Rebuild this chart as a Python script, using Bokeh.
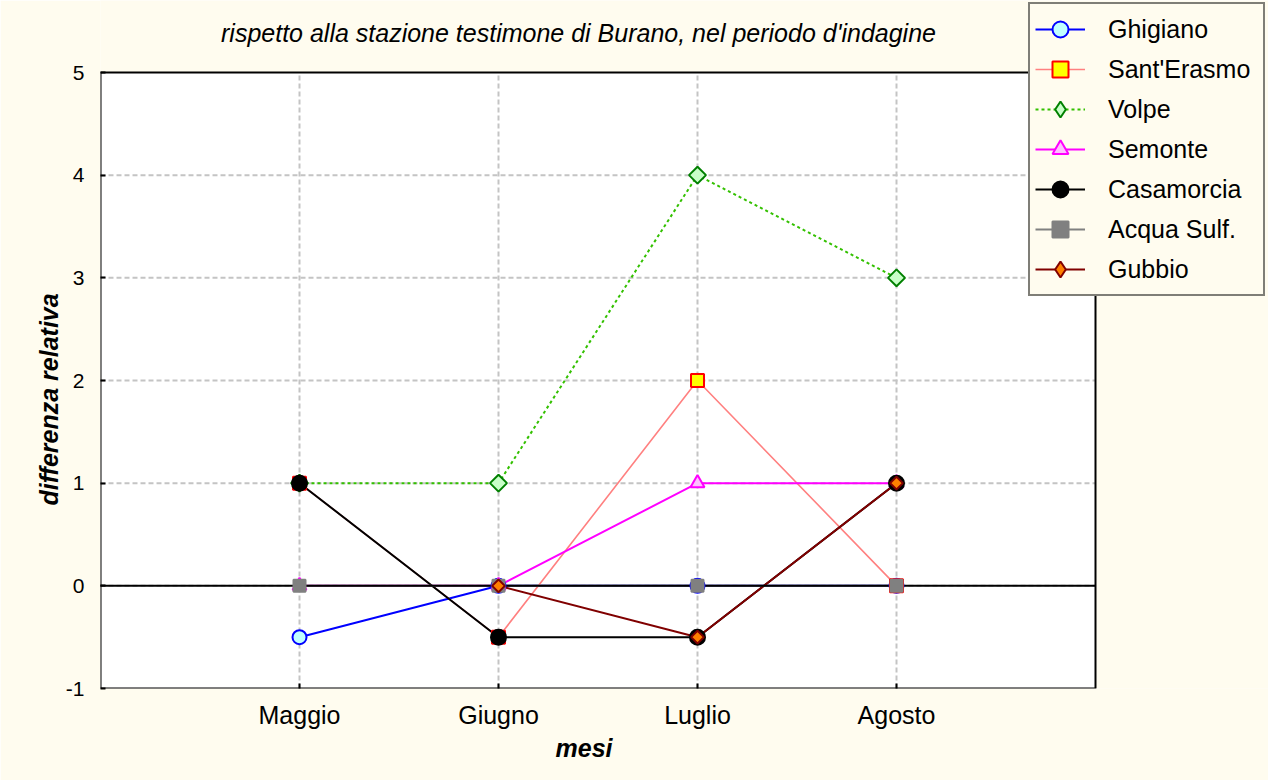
import numpy as np
from bokeh.plotting import figure
from bokeh.models import (Legend, LegendItem, FixedTicker, Range1d, Label, Title,
                          LinearAxis)
from bokeh.embed import file_html
from bokeh.resources import INLINE

# ---------------- data ----------------
mesi = ["Maggio", "Giugno", "Luglio", "Agosto"]
y_ticks = [-1, 0, 1, 2, 3, 4, 5]

ghigiano = [-0.5, 0, 0, 0]
sant_erasmo = [1, -0.5, 2, 0]
volpe = [1, 1, 4, 3]
semonte = [0, 0, 1, 1]
casamorcia = [1, -0.5, -0.5, 1]
acqua_sulf = [0, 0, 0, 0]
gubbio = [np.nan, 0, -0.5, 1]

series_names = ["Ghigiano", "Sant'Erasmo", "Volpe", "Semonte",
                "Casamorcia", "Acqua Sulf.", "Gubbio"]
series_values = [ghigiano, sant_erasmo, volpe, semonte,
                 casamorcia, acqua_sulf, gubbio]

title_text = "rispetto alla stazione testimone di Burano, nel periodo d'indagine"
x_label = "mesi"
y_label = "differenza relativa"

# ---------------- styles ----------------
# rot=True: square turned 45 degrees (an equal-sided diamond) in the plot
styles = [
    dict(lc="#0000FF", lw=2, dash="solid", marker="circle", size=14, rot=False,
         fc="#C0FFFF", mc="#0000FF"),
    dict(lc="#FF8080", lw=1.6, dash="solid", marker="square", size=13, rot=False,
         fc="#FFFF00", mc="#FF0000"),
    dict(lc="#33C000", lw=2, dash="3 3", marker="square", size=12, rot=True,
         fc="#C8FFC8", mc="#008000"),
    dict(lc="#FF00FF", lw=2, dash="solid", marker="triangle", size=14, rot=False,
         fc="#FFC0FF", mc="#FF00FF"),
    dict(lc="#000000", lw=2, dash="solid", marker="circle", size=15, rot=False,
         fc="#000000", mc="#000000"),
    dict(lc="#808080", lw=2, dash="solid", marker="square", size=12, rot=False,
         fc="#808080", mc="#808080"),
    dict(lc="#800000", lw=2, dash="solid", marker="square", size=9, rot=True,
         fc="#FF8000", mc="#800000"),
]

BG = "#fffcef"
FONT = "Liberation Sans"

# ---------------- layout (canvas pixels) ----------------
CANVAS_W, CANVAS_H = 1268, 780
PLOT_L, PLOT_R, PLOT_T, PLOT_B = 100, 1095, 72, 688   # visible white plot area

X_MIN, X_MAX = 0, len(mesi) + 1
Y_MIN, Y_MAX = min(y_ticks), max(y_ticks)
xs_per_px = (X_MAX - X_MIN) / (PLOT_R - PLOT_L)
ys_per_px = (Y_MAX - Y_MIN) / (PLOT_B - PLOT_T)
x_end = X_MAX + (CANVAS_W - PLOT_R) * xs_per_px
y_end = Y_MAX + PLOT_T * ys_per_px


def px_x(px):
    return X_MIN + (px - PLOT_L) * xs_per_px


def px_y(py):
    return Y_MAX + (PLOT_T - py) * ys_per_px


xs = np.arange(1, len(mesi) + 1, dtype=float)

p = figure(width=CANVAS_W, height=CANVAS_H, title=None,
           x_range=Range1d(X_MIN, x_end), y_range=Range1d(Y_MIN, y_end),
           output_backend="svg", toolbar_location=None,
           min_border_left=PLOT_L, min_border_right=0, min_border_top=0,
           min_border_bottom=CANVAS_H - PLOT_B,
           background_fill_color=BG, border_fill_color=BG,
           outline_line_color=None)
p.grid.visible = False

# white plot area, grid, frame
p.quad(left=[X_MIN], right=[X_MAX], bottom=[Y_MIN], top=[Y_MAX],
       fill_color="white", line_color=None, level="underlay")
p.segment(x0=xs, y0=[Y_MIN] * len(xs), x1=xs, y1=[Y_MAX] * len(xs),
          line_color="#c4c4c4", line_width=2, line_dash="5 3", level="underlay")
inner_y = y_ticks[1:-1]
p.segment(x0=[X_MIN] * len(inner_y), y0=inner_y, x1=[X_MAX] * len(inner_y), y1=inner_y,
          line_color="#c4c4c4", line_width=2, line_dash="5 3", level="underlay")
p.quad(left=[X_MIN], right=[X_MAX], bottom=[Y_MIN], top=[Y_MAX],
       fill_color=None, line_color="black", line_width=2, level="underlay")

# title (inside the frame, above the white plot area)
p.add_layout(Label(x=px_x(578), y=px_y(32), text=title_text,
                   text_align="center", text_baseline="alphabetic",
                   text_font=FONT, text_font_size="25px", text_font_style="italic",
                   text_color="black"))

# axes
p.xaxis.ticker = FixedTicker(ticks=list(xs))
p.xaxis.major_label_overrides = {float(x): m for x, m in zip(xs, mesi)}
p.yaxis.ticker = FixedTicker(ticks=y_ticks)
p.yaxis.major_label_overrides = {float(t): str(t) for t in y_ticks}
p.xaxis.bounds = (X_MIN, X_MAX)
p.yaxis.bounds = (Y_MIN, Y_MAX)

for ax in (p.xaxis[0], p.yaxis[0]):
    ax.axis_line_color = None
    ax.major_tick_in = 5
    ax.major_tick_out = 0
    ax.major_tick_line_color = "black"
    ax.major_tick_line_width = 2
    ax.minor_tick_line_color = None
    ax.major_label_text_font = FONT
    ax.major_label_text_color = "black"

p.xaxis.major_label_text_font_size = "25px"
p.yaxis.major_label_text_font_size = "21px"
p.xaxis.major_label_standoff = 12
p.yaxis.major_label_standoff = 16


def spacer_axis(size):
    # an empty axis (no ticks drawn, no labels, no line) used only as a gap
    return LinearAxis(ticker=FixedTicker(ticks=[]), axis_line_color=None,
                      major_tick_in=0, major_tick_out=size, major_label_standoff=0,
                      major_tick_line_color="black", major_tick_line_alpha=0,
                      minor_tick_in=0, minor_tick_out=size,
                      minor_tick_line_color="black", minor_tick_line_alpha=0)


p.add_layout(spacer_axis(16), "below")
p.add_layout(spacer_axis(26), "left")

# axis titles, placed in the side panels (centred on the white plot area)
x_title = Title(text=x_label, align="left", offset=455, standoff=0,
                text_font=FONT, text_font_size="25px", text_font_style="bold italic",
                text_color="black")
p.add_layout(x_title, "below")
y_title = Title(text=y_label, align="left", offset=183, standoff=0,
                text_font=FONT, text_font_size="25px", text_font_style="bold italic",
                text_color="black")
p.add_layout(y_title, "left")

# series lines
line_rs = []
for vals, st in zip(series_values, styles):
    ys = np.array(vals, dtype=float)
    line_rs.append(p.line(xs, ys, line_color=st["lc"], line_width=st["lw"],
                          line_dash=st["dash"]))

# zero reference line, above the series lines
p.segment(x0=[X_MIN], y0=[0], x1=[X_MAX], y1=[0], line_color="black", line_width=2,
          level="guide")

# markers (and legend entries)
items = []
for name, vals, st, lr in zip(series_names, series_values, styles, line_rs):
    ys = np.array(vals, dtype=float)
    mr = p.scatter(xs, ys, marker=st["marker"], size=st["size"],
                   angle=(np.pi / 4 if st["rot"] else 0),
                   fill_color=st["fc"], line_color=st["mc"], line_width=2, level="overlay")
    if st["rot"]:
        # legend symbol only (the rotated square is not turned inside the legend)
        key = p.scatter([np.nan], [np.nan], marker="diamond", size=st["size"],
                        fill_color=st["fc"], line_color=st["mc"], line_width=2)
        items.append(LegendItem(label=name, renderers=[lr, key]))
    else:
        items.append(LegendItem(label=name, renderers=[lr, mr]))

legend = Legend(items=items, location=(1028 - PLOT_L, PLOT_B - 296),
                border_line_color="black", border_line_width=2,
                background_fill_color=BG, background_fill_alpha=1,
                label_text_font=FONT, label_text_font_size="25px", label_text_color="black",
                glyph_width=50, glyph_height=40, label_height=40, label_standoff=23,
                label_width=150, padding=5, spacing=0, margin=0)
p.add_layout(legend)

open("out.html", "w").write(file_html(p, INLINE))
